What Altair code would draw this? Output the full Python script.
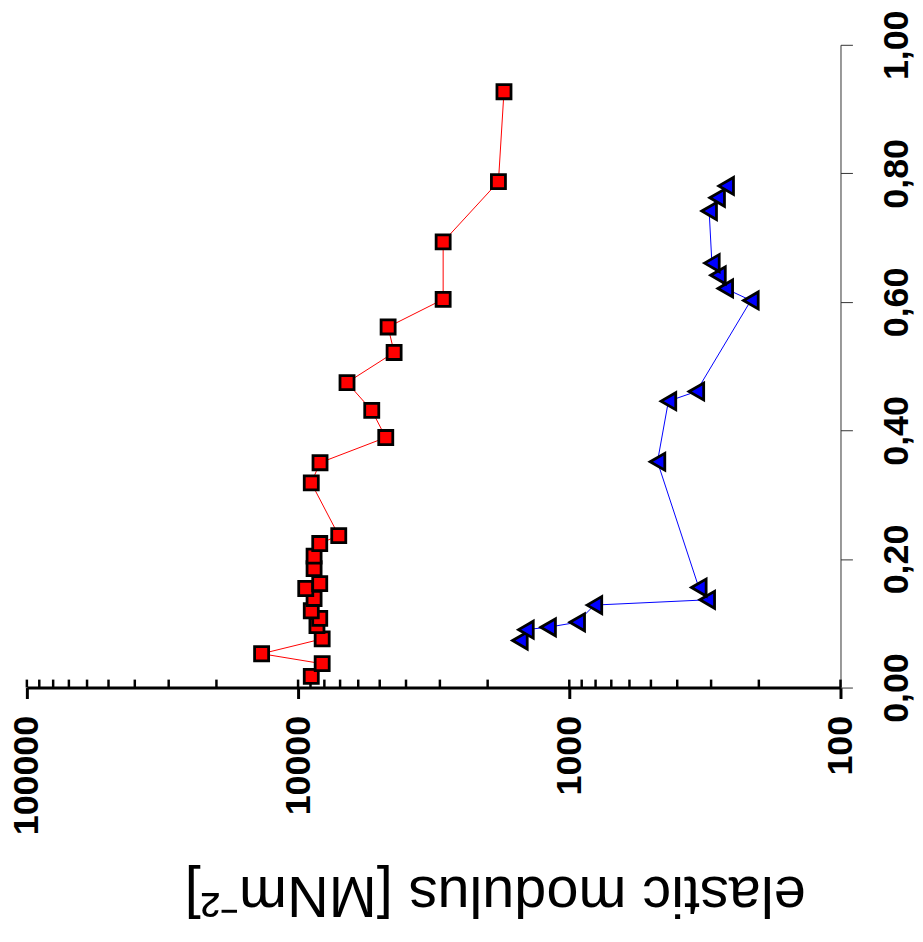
import altair as alt
import pandas as pd

# ---- data ----
red_frac = [0.0175, 0.0371, 0.0526, 0.0757, 0.0963, 0.1077, 0.1195, 0.1386, 0.1541,
            0.1618, 0.185, 0.2045, 0.2241, 0.2365, 0.3184, 0.3498, 0.389, 0.4312,
            0.4745, 0.5213, 0.561, 0.604, 0.6935, 0.787, 0.927]
red_modulus = [8940, 8150, 13630, 8150, 8520, 8320, 8940, 8730, 9370,
               8320, 8730, 8730, 8320, 7080, 8940, 8300, 4750, 5350,
               6600, 4425, 4656, 2918, 2918, 1825, 1741]

blue_frac = [0.0731, 0.0901, 0.0938, 0.1015, 0.1283, 0.1365, 0.1556, 0.3513, 0.4456,
             0.4606, 0.6023, 0.6209, 0.6414, 0.6604, 0.7414, 0.762, 0.7805]
blue_modulus = [1521, 1445, 1197, 935, 808, 310, 333, 473, 431,
                340, 214, 266, 283, 298, 305, 285, 264]

major_ticks = [100, 1000, 10000, 100000]
minor_ticks = [100, 200, 300, 400, 500, 600, 700, 800, 900,
               1000, 2000, 3000, 4000, 5000, 6000, 7000, 8000, 9000,
               10000, 20000, 30000, 40000, 50000, 60000, 70000, 80000, 90000,
               100000]
frac_ticks = [0.0, 0.2, 0.4, 0.6, 0.8, 1.0]

W, H = 819, 647

red_df = pd.DataFrame({"series": "red", "frac": red_frac, "modulus": red_modulus})
blue_df = pd.DataFrame({"series": "blue", "frac": blue_frac, "modulus": blue_modulus})
df = pd.concat([red_df, blue_df], ignore_index=True)
tick_df = pd.DataFrame({"modulus": minor_ticks, "frac": [0.0] * len(minor_ticks)})

xscale = alt.Scale(type="log", domain=[100, 100000], reverse=True, nice=False)
yscale = alt.Scale(domain=[0, 1], nice=False, zero=False)
color_scale = alt.Scale(domain=["red", "blue"], range=["#ff0000", "#0000ff"])

x_axis = alt.Axis(
    values=major_ticks, format="d", orient="bottom", grid=False,
    title="elastic modulus [MNm⁻²]",
    domainWidth=3, domainColor="black", tickWidth=3, tickColor="black", tickSize=11,
    labelAngle=-90, labelAlign="right", labelBaseline="middle", labelPadding=17,
    labelFont="Liberation Sans", labelFontSize=36, labelFontWeight="bold",
    labelColor="black", labelFlush=False, labelOverlap=False,
    titleFont="Liberation Sans", titleFontSize=58, titleFontWeight="normal",
    titleColor="black", titleAngle=180, titleAlign="center",
    titleBaseline="alphabetic", titleX=471, titleY=190,
)

y_axis = alt.Axis(
    values=frac_ticks, orient="right", grid=False, title=None,
    labelExpr="replace(format(datum.value, '.2f'), '.', ',')",
    domainWidth=1, domainColor="#333333", tickWidth=1, tickColor="#333333", tickSize=12,
    labelAngle=-90, labelAlign="center", labelBaseline="top", labelPadding=27,
    labelFont="Liberation Sans", labelFontSize=36, labelFontWeight="bold",
    labelColor="black", labelFlush=False, labelOverlap=False,
)

X = alt.X("modulus:Q", scale=xscale, axis=x_axis)
Y = alt.Y("frac:Q", scale=yscale, axis=y_axis)

lines = alt.Chart(df).mark_line(strokeWidth=1).encode(
    x=X, y=Y,
    color=alt.Color("series:N", scale=color_scale, legend=None),
    order=alt.Order("frac:Q"),
)

ticks = alt.Chart(tick_df).mark_rule(color="black", strokeWidth=2.5).encode(
    x=X,
    y=alt.value(H - 8), y2=alt.value(H),
)

red_pts = alt.Chart(red_df).mark_point(
    shape="square", filled=True, fill="#ff0000", stroke="black",
    strokeWidth=2.8, size=200, opacity=1, fillOpacity=1,
).encode(x=X, y=Y)

blue_pts = alt.Chart(blue_df).mark_point(
    shape="triangle-left", filled=True, fill="#0000ff", stroke="black",
    strokeWidth=2.8, size=290, opacity=1, fillOpacity=1,
).encode(x=X, y=Y)

chart = alt.layer(lines, ticks, red_pts, blue_pts).properties(
    width=W, height=H,
    padding={"left": 19, "top": 34, "right": 75, "bottom": 240},
    autosize=alt.AutoSizeParams(type="none"),
    background="white",
).configure_view(stroke=None)

chart.save("out.html", embed_options={"renderer": "svg", "actions": False})
